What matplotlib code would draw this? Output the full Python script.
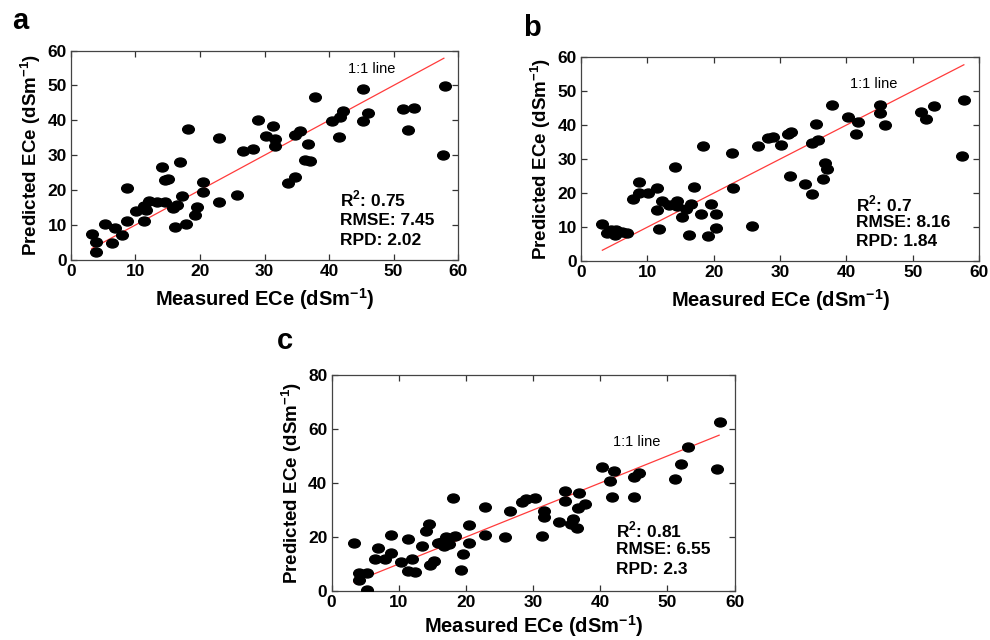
import numpy as np
import matplotlib
matplotlib.use("Agg")
import matplotlib.pyplot as plt
from matplotlib.path import Path
from matplotlib.transforms import Affine2D

plt.rcParams['font.family'] = ['Liberation Sans', 'DejaVu Sans']
plt.rcParams['mathtext.fontset'] = 'custom'
plt.rcParams['mathtext.rm'] = 'Liberation Sans:bold'
plt.rcParams['mathtext.bf'] = 'Liberation Sans:bold'

# panel a: measured vs predicted ECe
a_meas = [3.2, 3.9, 3.9, 5.2, 6.3, 6.8, 7.9, 8.7, 8.7, 10.1, 11.3, 11.3, 11.7, 12.1,
          13.3, 14.5, 14.1, 14.5, 15.1, 15.8, 16.2, 16.5, 16.9, 17.2, 17.9, 18.2,
          19.2, 19.6, 20.5, 20.5, 22.9, 22.9, 25.8, 26.6, 28.2, 29.0, 30.3, 31.3,
          31.6, 31.6, 33.7, 34.8, 34.8, 35.5, 36.7, 36.3, 37.0, 37.9, 40.4, 41.5,
          41.7, 42.1, 45.2, 45.2, 46.0, 51.4, 53.2, 52.2, 57.9, 57.6]
a_pred = [7.4, 5.0, 2.3, 10.3, 4.9, 9.1, 7.0, 11.1, 20.7, 13.9, 11.0, 15.4, 14.2, 17.0,
          16.6, 16.6, 26.5, 22.8, 23.3, 14.9, 9.3, 15.7, 28.0, 18.2, 10.4, 37.5,
          12.8, 15.2, 19.5, 22.2, 16.7, 34.8, 18.7, 31.2, 31.7, 40.0, 35.4, 38.3,
          34.7, 32.6, 21.9, 23.7, 35.9, 37.0, 33.3, 28.5, 28.2, 46.6, 39.9, 35.1,
          41.0, 42.6, 49.1, 39.7, 42.1, 43.2, 43.4, 37.3, 49.9, 30.2]

# panel b
b_meas = [3.1, 3.9, 4.5, 5.1, 5.2, 6.2, 6.9, 7.8, 8.7, 8.7, 10.1, 11.4, 11.4, 11.8,
          12.2, 13.3, 14.1, 14.5, 14.4, 15.2, 15.8, 16.3, 16.5, 17.0, 18.0, 18.3,
          19.2, 19.6, 20.4, 20.4, 22.8, 22.9, 25.7, 26.6, 28.1, 28.9, 30.2, 31.2,
          31.6, 31.5, 33.7, 34.8, 34.8, 35.4, 35.7, 36.7, 37.0, 36.4, 37.8, 40.3,
          41.7, 41.5, 45.1, 45.1, 45.8, 51.2, 52.0, 53.2, 57.7, 57.4]
b_pred = [10.8, 8.4, 9.2, 7.6, 9.2, 8.5, 8.2, 18.2, 23.3, 20.0, 20.0, 21.5, 15.1, 9.5,
          17.7, 16.5, 27.6, 17.8, 16.3, 12.9, 15.3, 7.8, 16.9, 21.7, 13.9, 33.8,
          7.5, 16.7, 13.9, 9.8, 31.8, 21.6, 10.4, 33.9, 36.2, 36.4, 34.0, 37.4,
          37.9, 25.1, 22.6, 19.7, 34.7, 40.2, 35.7, 28.8, 27.1, 24.1, 45.8, 42.5,
          40.9, 37.4, 46.0, 43.5, 40.1, 43.8, 41.9, 45.7, 47.4, 30.8]

# panel c
c_meas = [3.4, 4.1, 4.1, 5.3, 5.3, 6.4, 6.9, 8.0, 8.8, 8.8, 10.3, 11.4, 11.4, 11.9,
          12.4, 13.4, 14.1, 14.5, 14.6, 15.3, 15.9, 16.4, 16.7, 17.0, 17.5, 18.0,
          18.3, 19.3, 19.6, 20.5, 20.5, 22.9, 22.9, 25.8, 26.6, 28.3, 29.0, 30.3,
          31.6, 31.6, 31.3, 33.8, 34.8, 34.8, 35.6, 35.9, 36.5, 36.7, 36.9, 37.8,
          40.3, 41.5, 42.1, 41.7, 45.0, 45.8, 45.0, 51.2, 52.0, 53.1, 57.4, 57.8]
c_pred = [17.7, 6.5, 4.1, 6.5, 0.4, 11.9, 16.0, 11.9, 14.0, 20.7, 10.6, 19.3, 7.5, 11.7,
          6.9, 16.7, 22.3, 24.7, 9.6, 11.0, 17.9, 18.3, 16.7, 20.1, 17.3, 34.6,
          20.4, 7.8, 13.7, 17.9, 24.3, 31.0, 20.7, 20.0, 29.8, 33.1, 34.1, 34.6,
          29.8, 27.5, 20.5, 25.4, 37.2, 33.5, 24.8, 26.5, 23.2, 30.9, 36.2, 32.1,
          46.0, 40.9, 44.6, 34.9, 42.1, 43.8, 34.9, 41.4, 46.9, 53.2, 45.1, 62.7]

panel_names = ['a', 'b', 'c']
stats = [['R$^2$: 0.75', 'RMSE: 7.45', 'RPD: 2.02'],
         ['R$^2$: 0.7', 'RMSE: 8.16', 'RPD: 1.84'],
         ['R$^2$: 0.81', 'RMSE: 6.55', 'RPD: 2.3']]
line_ends = [(3.2, 57.8), (3.2, 57.7), (3.3, 57.7)]
y_max = [60, 60, 80]
y_step = [10, 10, 20]

fig = plt.figure(figsize=(9.9, 6.4), dpi=100)
boxes = [[0.0717, 0.594, 0.391, 0.327],
         [0.587, 0.592, 0.402, 0.319],
         [0.335, 0.0766, 0.407, 0.3375]]
data = [(a_meas, a_pred), (b_meas, b_pred), (c_meas, c_pred)]
label_pos = [(0.012, 0.945), (0.528, 0.935), (0.280, 0.445)]
onetoone_pos = [(43.0, 54.7), (40.6, 52.0), (41.9, 55.2)]
stats_pos = [(41.7, 17.3, 5.9), (41.4, 16.9, 5.6), (42.4, 22.6, 7.3)]
xlabel_pad = [5, 5, 2]

ellipse = Path.unit_circle().transformed(Affine2D().scale(1.3, 1.0))

for i, ax_box in enumerate(boxes):
    ax = fig.add_axes(ax_box)
    xm, yp = data[i]
    ax.plot(xm, yp, linestyle='none', marker=ellipse, markersize=8.4,
            color='black', zorder=3)
    lo, hi = line_ends[i]
    ax.plot([lo, hi], [lo, hi], color='#ff3b3b', linewidth=0.9, zorder=2)
    ax.set_xlim(0, 60)
    ax.set_ylim(0, y_max[i])
    ax.set_xticks(np.arange(0, 61, 10))
    ax.set_yticks(np.arange(0, y_max[i] + 1, y_step[i]))
    ax.tick_params(direction='in', top=True, right=True, length=4, width=0.9,
                   labelsize=12.5, pad=3, color='#333333')
    for lab in ax.get_xticklabels() + ax.get_yticklabels():
        lab.set_fontweight('bold')
    for sp in ax.spines.values():
        sp.set_color('#444444')
        sp.set_linewidth(0.9)
    ax.set_xlabel(r'Measured ECe (dSm$^{\mathbf{-1}}$)', fontsize=14.5,
                  fontweight='bold', labelpad=xlabel_pad[i])
    ax.set_ylabel(r'Predicted ECe (dSm$^{\mathbf{-1}}$)', fontsize=13.5,
                  fontweight='bold', labelpad=3)
    tx, ty = onetoone_pos[i]
    ax.text(tx, ty, '1:1 line', fontsize=10.5, va='center', ha='left')
    sx, sy, dy = stats_pos[i]
    for k, s in enumerate(stats[i]):
        ax.text(sx, sy - k * dy, s, fontsize=12.5, fontweight='bold',
                va='center', ha='left')
    fig.text(label_pos[i][0], label_pos[i][1], panel_names[i], fontsize=21,
             fontweight='bold', va='bottom', ha='left')

fig.savefig('out.png', dpi=100)
